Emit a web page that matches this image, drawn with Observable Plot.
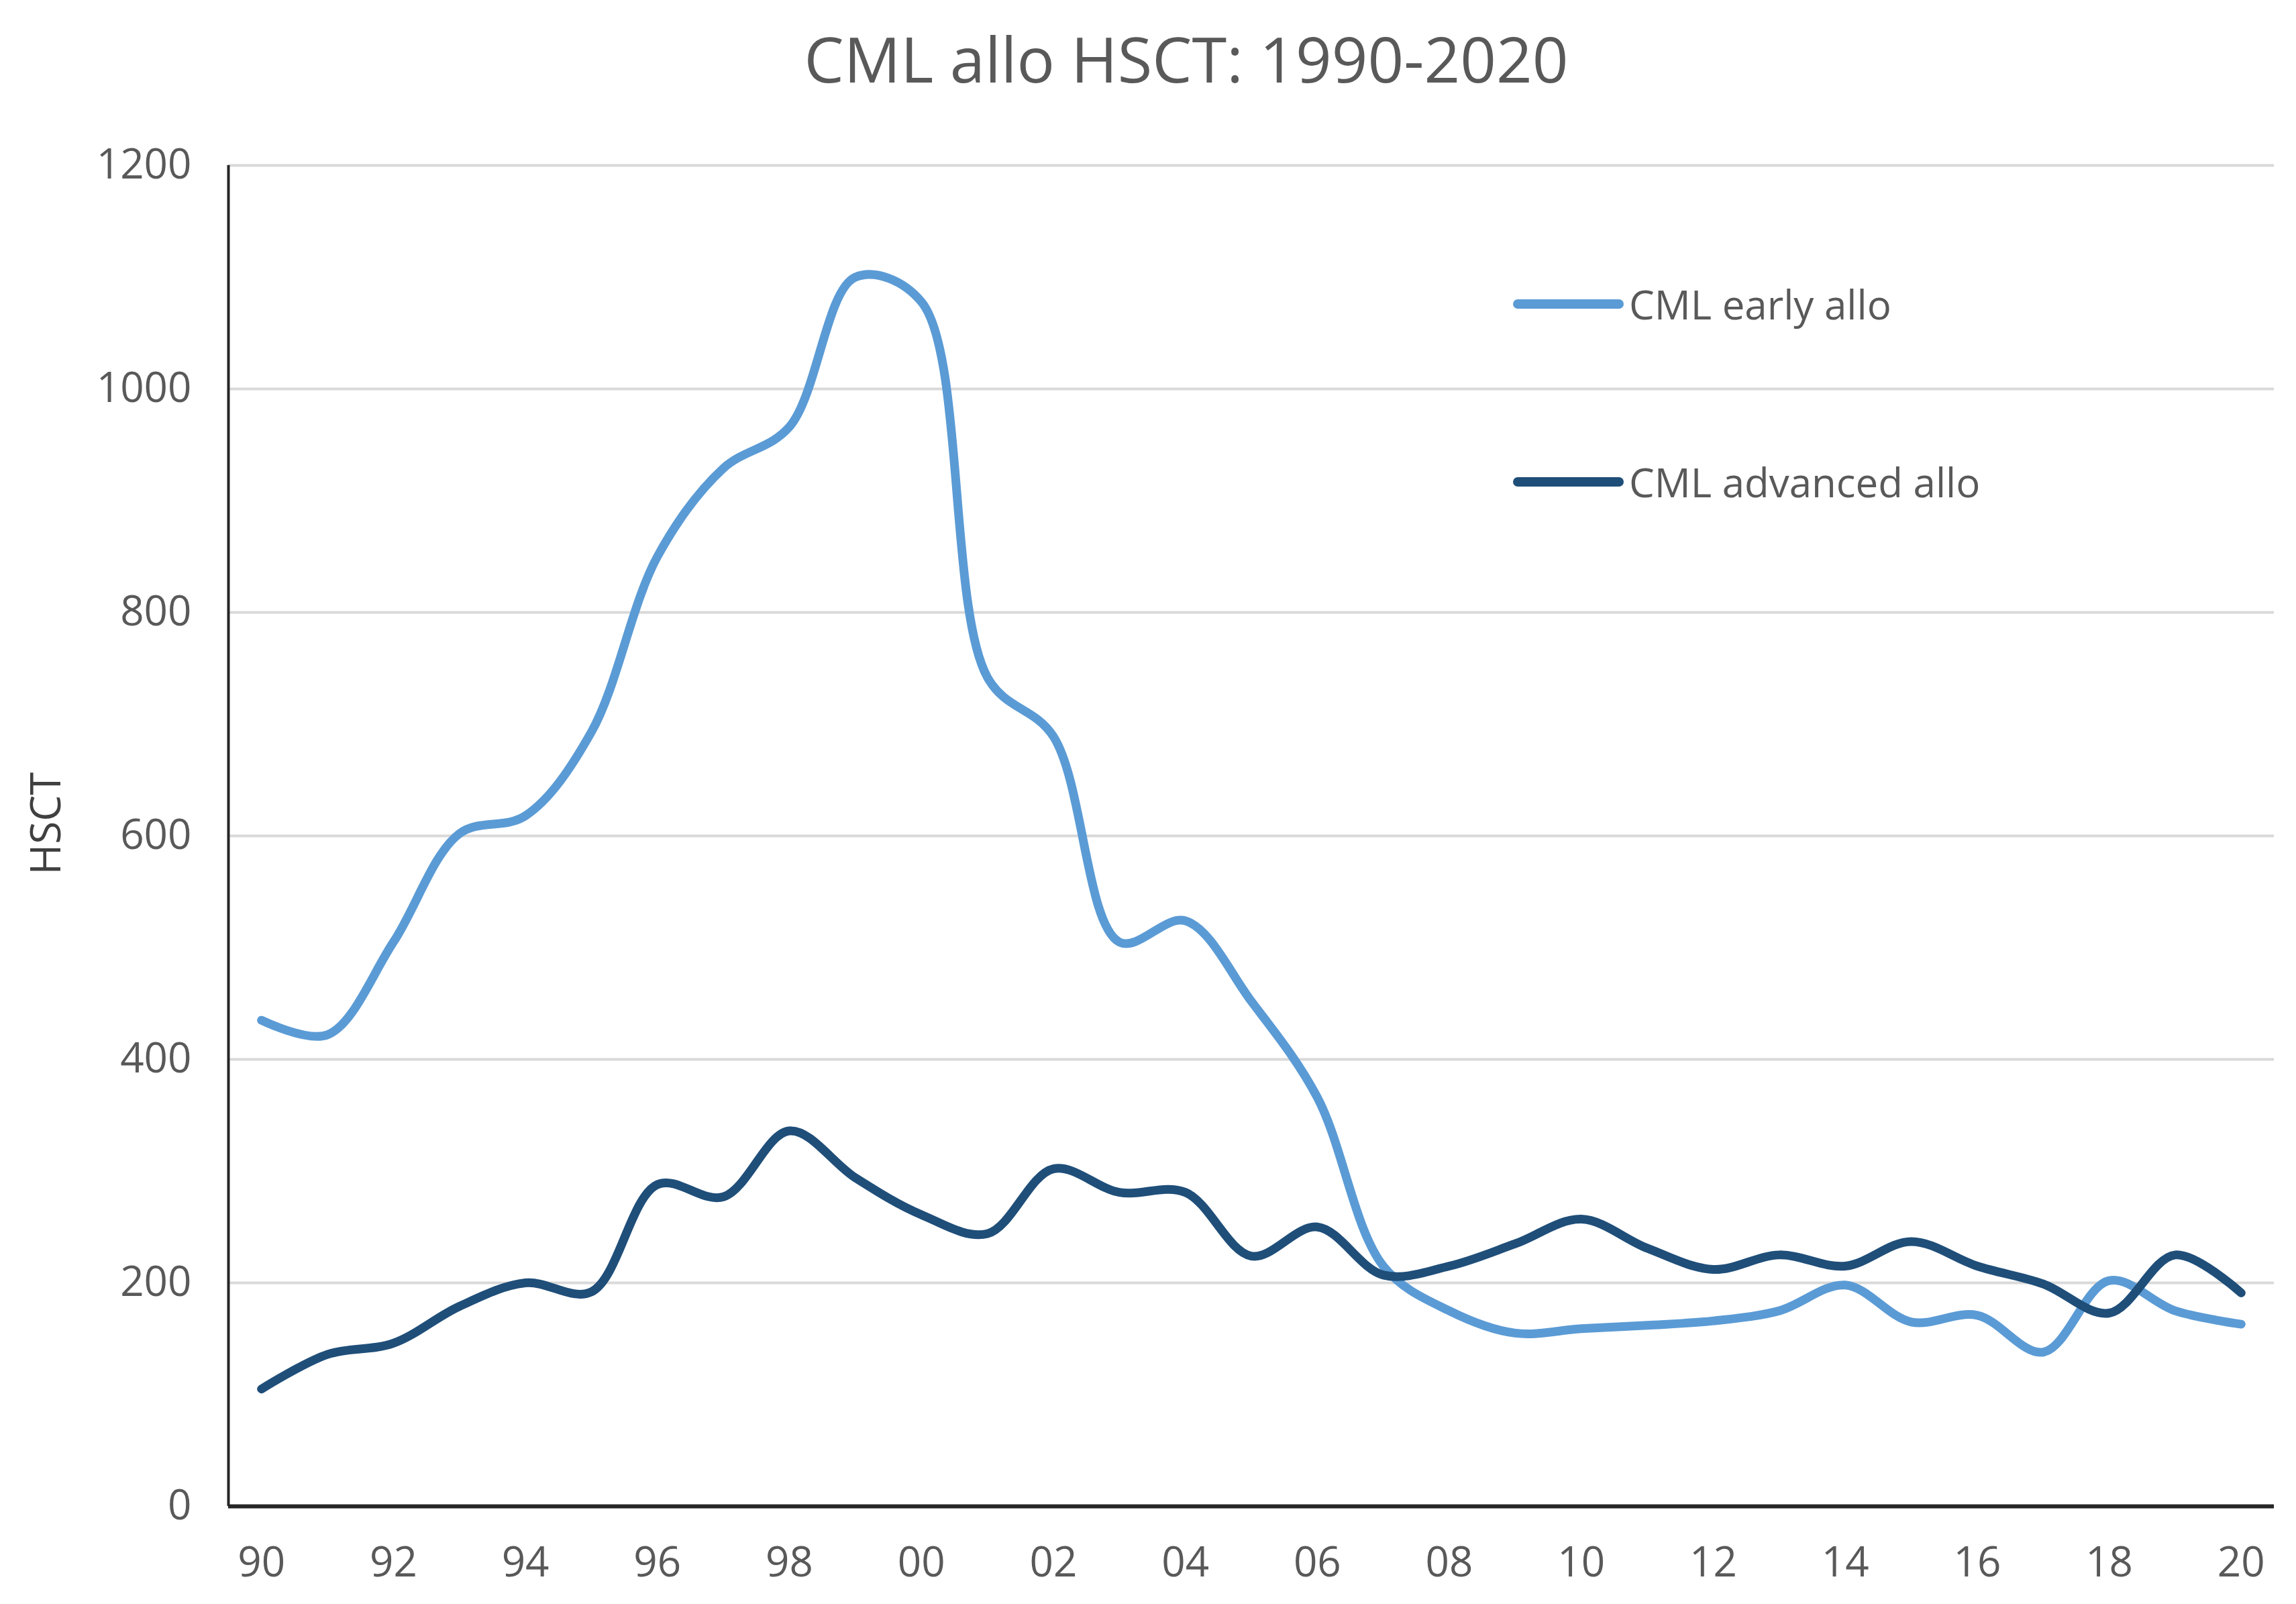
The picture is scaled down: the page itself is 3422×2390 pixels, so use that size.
<!DOCTYPE html>
<html>
<head>
<meta charset="utf-8">
<script src="https://cdn.jsdelivr.net/npm/d3@7"></script>
<script src="https://cdn.jsdelivr.net/npm/@observablehq/plot@0.6"></script>
<style>
  html, body { margin: 0; padding: 0; background: #ffffff; }
  #page { position: relative; width: 3422px; height: 2390px; background: #fff; font-family: "Open Sans", sans-serif; color: #595959; }
  #title { position: absolute; top: 40px; left: 1768px; transform: translateX(-50%); font-size: 94px; line-height: 1; white-space: nowrap; color: #595959; }
  #chart { position: absolute; top: 180px; left: 0; }
  .leg { position: absolute; left: 2255px; display: flex; align-items: center; font-size: 60px; white-space: nowrap; color: #595959; }
  .leg .sw { width: 165px; height: 14px; border-radius: 7px; margin-right: 8px; }
</style>
</head>
<body>
<div id="page">
  <div id="title">CML allo HSCT: 1990-2020</div>
  <div id="chart"></div>
  <div class="leg" style="top:412px"><div class="sw" style="background:#5b9bd5"></div><span>CML early allo</span></div>
  <div class="leg" style="top:677px"><div class="sw" style="background:#1f4e79"></div><span>CML advanced allo</span></div>
</div>
<script>
const years = [1990,1991,1992,1993,1994,1995,1996,1997,1998,1999,2000,2001,2002,2003,2004,2005,2006,2007,2008,2009,2010,2011,2012,2013,2014,2015,2016,2017,2018,2019,2020];
const earlyAllo = [435,422,505,602,618,693,850,929,966,1100,1078,742,689,505,524,452,366,215,175,155,159,162,166,175,198,165,171,138,202,175,163];
const advancedAllo = [105,136,146,179,200,192,288,277,336,294,261,244,302,281,281,224,250,207,215,235,257,231,212,225,215,237,215,199,173,225,191];
const xTicks = [1990,1992,1994,1996,1998,2000,2002,2004,2006,2008,2010,2012,2014,2016,2018,2020];
const yTicks = [0,200,400,600,800,1000,1200];
const xDomain = [1989.5, 2020.5];
const yDomain = [0, 1200];
const yLabel = "HSCT";

const early = years.map((y, i) => ({year: y, value: earlyAllo[i]}));
const advanced = years.map((y, i) => ({year: y, value: advancedAllo[i]}));

const chart = Plot.plot({
  width: 3422,
  height: 2210,
  marginLeft: 340,
  marginRight: 33,
  marginTop: 66,
  marginBottom: 146,
  style: {fontFamily: "'Open Sans', sans-serif", fontSize: "62px", color: "#595959", background: "transparent"},
  x: {domain: xDomain},
  y: {domain: yDomain},
  marks: [
    Plot.gridY(yTicks, {stroke: "#d9d9d9", strokeOpacity: 1, strokeWidth: 4}),
    Plot.axisY(yTicks, {tickSize: 0, tickPadding: 55, label: null, fontSize: 62, tickFormat: d => String(d)}),
    Plot.axisX(xTicks, {tickSize: 0, tickPadding: 60, label: null, fontSize: 62, tickFormat: d => String(d % 100).padStart(2, "0")}),
    Plot.ruleX([xDomain[0]], {stroke: "#262626", strokeWidth: 4}),
    Plot.ruleY([0], {stroke: "#262626", strokeWidth: 6}),
    Plot.line(early, {x: "year", y: "value", stroke: "#5b9bd5", strokeWidth: 13, curve: "catmull-rom", strokeLinecap: "round", strokeLinejoin: "round"}),
    Plot.line(advanced, {x: "year", y: "value", stroke: "#1f4e79", strokeWidth: 13, curve: "catmull-rom", strokeLinecap: "round", strokeLinejoin: "round"}),
    Plot.text([yLabel], {frameAnchor: "left", dx: -270, dy: 58, rotate: -90, fontSize: 62, fill: "#404040"})
  ]
});
document.getElementById("chart").appendChild(chart);
</script>
</body>
</html>
